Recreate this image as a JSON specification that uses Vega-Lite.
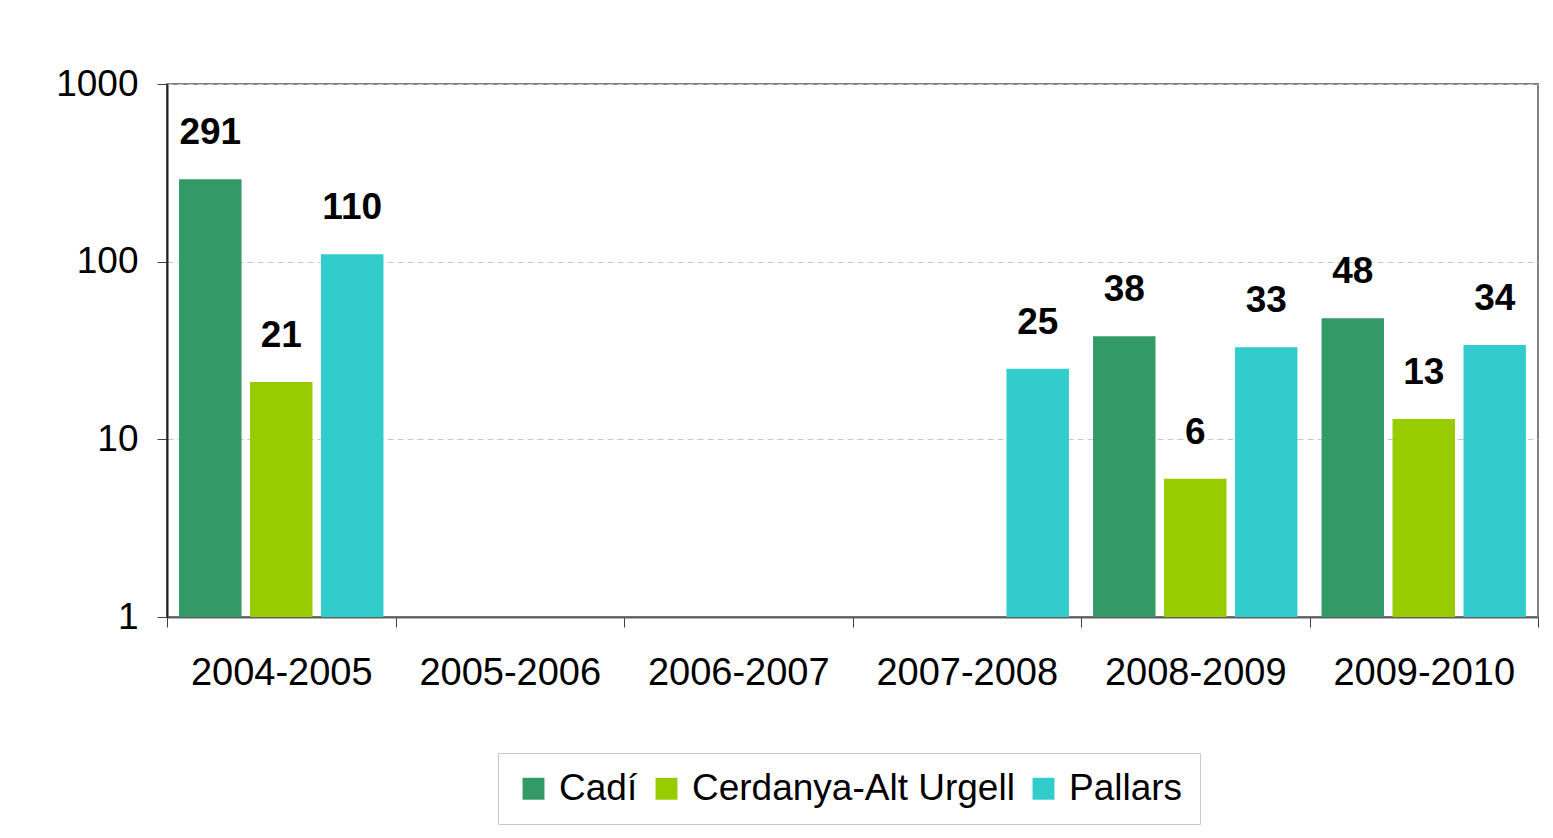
{
  "$schema": "https://vega.github.io/schema/vega-lite/v6.json",
  "autosize": {"type": "none"},
  "width": 1371,
  "height": 533,
  "padding": {"left": 167, "top": 84, "right": 15, "bottom": 221},
  "background": "white",
  "config": {
    "font": "Liberation Sans",
    "view": {"stroke": "#808080", "strokeWidth": 2}
  },
  "data": {
    "values": [
      {"year": "2004-2005", "zone": "Cadí", "value": 291},
      {"year": "2004-2005", "zone": "Cerdanya-Alt Urgell", "value": 21},
      {"year": "2004-2005", "zone": "Pallars", "value": 110},
      {"year": "2007-2008", "zone": "Pallars", "value": 25},
      {"year": "2008-2009", "zone": "Cadí", "value": 38},
      {"year": "2008-2009", "zone": "Cerdanya-Alt Urgell", "value": 6},
      {"year": "2008-2009", "zone": "Pallars", "value": 33},
      {"year": "2009-2010", "zone": "Cadí", "value": 48},
      {"year": "2009-2010", "zone": "Cerdanya-Alt Urgell", "value": 13},
      {"year": "2009-2010", "zone": "Pallars", "value": 34}
    ]
  },
  "encoding": {
    "x": {
      "field": "year",
      "type": "nominal",
      "scale": {
        "domain": ["2004-2005", "2005-2006", "2006-2007", "2007-2008", "2008-2009", "2009-2010"],
        "paddingInner": 0,
        "paddingOuter": 0
      },
      "axis": {
        "title": null,
        "labelAngle": 0,
        "labelFontSize": 38,
        "labelLimit": 400,
        "labelColor": "black",
        "labelPadding": 27,
        "tickBand": "extent",
        "tickSize": 10,
        "tickColor": "#404040",
        "domainColor": "#606060",
        "domainWidth": 2,
        "grid": false
      }
    },
    "xOffset": {
      "field": "zone",
      "type": "nominal",
      "scale": {"domain": ["Cadí", "Cerdanya-Alt Urgell", "Pallars"], "paddingInner": 0.12, "paddingOuter": 0.17}
    },
    "y": {
      "field": "value",
      "type": "quantitative",
      "scale": {"type": "log", "domain": [1, 1000]},
      "axis": {
        "title": null,
        "values": [1, 10, 100, 1000],
        "format": "d",
        "labelFontSize": 37,
        "labelColor": "black",
        "labelPadding": 19,
        "tickSize": 10,
        "tickColor": "#404040",
        "domainColor": "#202020",
        "domainWidth": 2,
        "grid": true,
        "gridColor": "#c8c8c8",
        "gridDash": [6, 4],
        "gridWidth": 1
      }
    }
  },
  "layer": [
    {
      "mark": {"type": "bar"},
      "encoding": {
        "y2": {"datum": 1},
        "color": {
          "field": "zone",
          "type": "nominal",
          "scale": {
            "domain": ["Cadí", "Cerdanya-Alt Urgell", "Pallars"],
            "range": ["#339966", "#99cc00", "#33cccc"]
          },
          "legend": {
            "title": null,
            "orient": "none",
            "legendX": 331,
            "legendY": 669,
            "direction": "horizontal",
            "symbolType": "square",
            "symbolSize": 480,
            "symbolStrokeWidth": 0,
            "labelFontSize": 37,
            "labelColor": "black",
            "labelLimit": 600,
            "labelOffset": 7,
            "columnPadding": 10,
            "strokeColor": "#c8c8c8",
            "padding": 17,
            "fillColor": "white"
          }
        }
      }
    },
    {
      "mark": {"type": "text", "fontSize": 37, "fontWeight": "bold", "baseline": "alphabetic", "dy": -35, "color": "black"},
      "encoding": {"text": {"field": "value", "type": "quantitative"}}
    }
  ]
}
